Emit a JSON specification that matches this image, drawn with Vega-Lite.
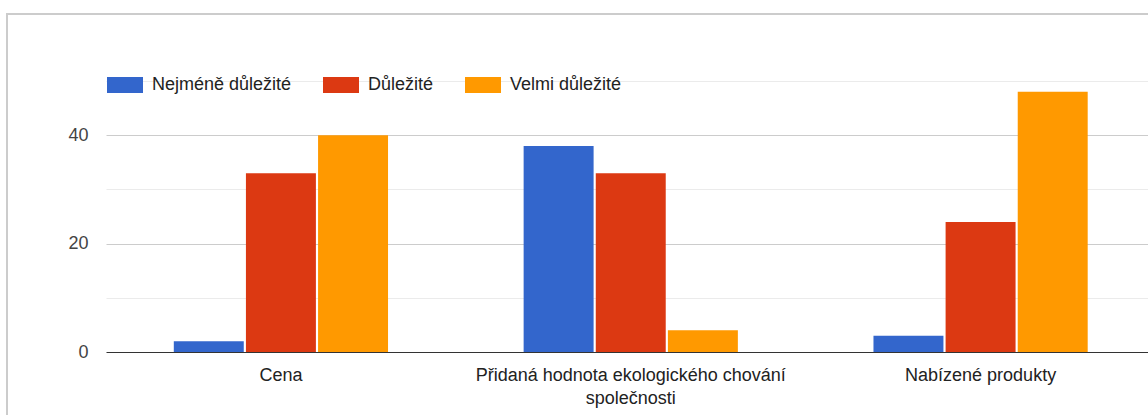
{
  "$schema": "https://vega.github.io/schema/vega-lite/v6.json",
  "autosize": "none",
  "width": 1160,
  "height": 420,
  "padding": {"left": 7, "top": 14, "right": 0, "bottom": 0},
  "background": "#ffffff",
  "config": {
    "view": {"stroke": "#cccccc", "strokeWidth": 2},
    "font": "Liberation Sans"
  },
  "data": {
    "values": [
      {"kategorie": "Cena", "hodnoceni": "Nejméně důležité", "pocet": 2},
      {"kategorie": "Cena", "hodnoceni": "Důležité", "pocet": 33},
      {"kategorie": "Cena", "hodnoceni": "Velmi důležité", "pocet": 40},
      {"kategorie": "Přidaná hodnota ekologického chování společnosti", "hodnoceni": "Nejméně důležité", "pocet": 38},
      {"kategorie": "Přidaná hodnota ekologického chování společnosti", "hodnoceni": "Důležité", "pocet": 33},
      {"kategorie": "Přidaná hodnota ekologického chování společnosti", "hodnoceni": "Velmi důležité", "pocet": 4},
      {"kategorie": "Nabízené produkty", "hodnoceni": "Nejméně důležité", "pocet": 3},
      {"kategorie": "Nabízené produkty", "hodnoceni": "Důležité", "pocet": 24},
      {"kategorie": "Nabízené produkty", "hodnoceni": "Velmi důležité", "pocet": 48}
    ]
  },
  "mark": {"type": "bar"},
  "encoding": {
    "x": {
      "field": "kategorie",
      "type": "nominal",
      "sort": ["Cena", "Přidaná hodnota ekologického chování společnosti", "Nabízené produkty"],
      "scale": {"range": [99, 1148.5], "paddingInner": 0, "paddingOuter": 0},
      "axis": {
        "title": null,
        "orient": "bottom",
        "offset": -82,
        "domain": false,
        "ticks": false,
        "grid": false,
        "labelAngle": 0,
        "labelFontSize": 18,
        "labelFont": "Liberation Sans",
        "labelColor": "#222222",
        "labelPadding": 14,
        "labelLimit": 0,
        "labelLineHeight": 23,
        "labelExpr": "datum.label == 'Přidaná hodnota ekologického chování společnosti' ? ['Přidaná hodnota ekologického chování', 'společnosti'] : datum.label"
      }
    },
    "xOffset": {
      "field": "hodnoceni",
      "type": "nominal",
      "sort": ["Nejméně důležité", "Důležité", "Velmi důležité"],
      "scale": {"paddingInner": 0.03, "paddingOuter": 0.94}
    },
    "y": {
      "field": "pocet",
      "type": "quantitative",
      "scale": {"domain": [0, 50], "range": [338, 67], "nice": false, "zero": true},
      "axis": {
        "title": null,
        "orient": "left",
        "offset": -99,
        "values": [0, 10, 20, 30, 40, 50],
        "labelExpr": "datum.value % 20 === 0 ? datum.label : ''",
        "domain": false,
        "ticks": false,
        "grid": true,
        "gridColor": {
          "condition": [
            {"test": "datum.value === 0", "value": "#333333"},
            {"test": "datum.value % 20 === 0", "value": "#cccccc"}
          ],
          "value": "#ebebeb"
        },
        "gridWidth": 1,
        "labelFontSize": 18,
        "labelFont": "Liberation Sans",
        "labelColor": "#444444",
        "labelPadding": 18
      }
    },
    "color": {
      "field": "hodnoceni",
      "type": "nominal",
      "scale": {
        "domain": ["Nejméně důležité", "Důležité", "Velmi důležité"],
        "range": ["#3366cc", "#dc3912", "#ff9900"]
      },
      "legend": {
        "title": null,
        "orient": "none",
        "legendX": 100,
        "legendY": 53,
        "direction": "horizontal",
        "padding": 0,
        "symbolType": "M-1,-0.444H1V0.444H-1Z",
        "symbolSize": 1296,
        "symbolStrokeWidth": 0,
        "symbolOpacity": 1,
        "labelFontSize": 18,
        "labelFont": "Liberation Sans",
        "labelColor": "#222222",
        "labelOffset": 9,
        "labelLimit": 400,
        "columnPadding": 31
      }
    }
  }
}
